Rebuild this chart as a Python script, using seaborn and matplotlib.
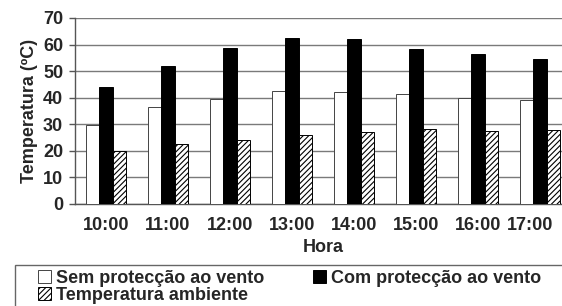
import numpy as np
import pandas as pd
import matplotlib
matplotlib.use("Agg")
import matplotlib.pyplot as plt
import matplotlib.transforms as mtransforms
from matplotlib.patches import Rectangle
import seaborn as sns

horas = ["10:00", "11:00", "12:00", "13:00", "14:00", "15:00", "16:00", "17:00"]
sem_proteccao = [29.7, 36.4, 39.6, 42.5, 42.2, 41.3, 39.9, 39.1]
com_proteccao = [44.1, 52.1, 58.6, 62.6, 62.2, 58.3, 56.3, 54.7]
temp_ambiente = [20.1, 22.5, 24.0, 26.1, 27.1, 28.3, 27.5, 27.7]
series_names = ["Sem protecção ao vento", "Com protecção ao vento", "Temperatura ambiente"]

df = pd.DataFrame({
    "Hora": horas * 3,
    "Temperatura": sem_proteccao + com_proteccao + temp_ambiente,
    "Serie": [series_names[0]] * 8 + [series_names[1]] * 8 + [series_names[2]] * 8,
})

sns.set_theme(style="white")
plt.rcParams["font.family"] = ["Liberation Sans", "DejaVu Sans"]
plt.rcParams["font.weight"] = "bold"
plt.rcParams["hatch.linewidth"] = 0.8

FS = 13
W, H = 562, 306
fig = plt.figure(figsize=(W / 100, H / 100), dpi=100)
ax = fig.add_axes([75 / W, 1 - 204 / H, 496 / W, 186 / H])

sns.barplot(data=df, x="Hora", y="Temperatura", hue="Serie", order=horas,
            hue_order=series_names, palette=["white", "black", "white"],
            width=0.66, gap=0, edgecolor="black", linewidth=0.7,
            legend=False, ax=ax, zorder=3)

n = len(horas)
for i, bar in enumerate(ax.patches):
    if i >= 2 * n:
        bar.set_hatch("//////")
    if i < n:
        bar.set_edgecolor("#444444")

ax.set_ylim(0, 70)
ax.set_xlim(-0.5, n - 0.5)
ax.set_yticks(np.arange(0, 71, 10))
ax.yaxis.grid(True, color="#7a7a7a", linewidth=1.0, zorder=0)
ax.set_axisbelow(True)
for s in ["top", "right"]:
    ax.spines[s].set_visible(False)
for s in ["left", "bottom"]:
    ax.spines[s].set_color("#555555")
    ax.spines[s].set_linewidth(1.0)

ax.set_xticks(np.arange(n))
ax.set_xticklabels(horas)
ax.set_xticks(np.arange(n + 1) - 0.5, minor=True)
ax.tick_params(axis="x", which="major", length=0, pad=9, labelsize=FS)
ax.tick_params(axis="x", which="minor", length=5, width=1, color="#555555", direction="out")
ax.tick_params(axis="y", which="major", length=4.5, width=1, color="#555555",
               direction="out", pad=4, labelsize=FS, left=True)
for lab in ax.get_xticklabels() + ax.get_yticklabels():
    lab.set_fontweight("bold")
last = ax.get_xticklabels()[-1]
last.set_transform(last.get_transform() + mtransforms.ScaledTranslation(-10 / 100, 0, fig.dpi_scale_trans))

ax.set_xlabel("Hora", fontsize=FS, fontweight="bold", labelpad=4)
ax.set_ylabel("Temperatura (ºC)", fontsize=FS, fontweight="bold", labelpad=4)

bars = ax.patches
handles = [bars[0], bars[2 * n], bars[n]]
labels = [series_names[0], series_names[2], series_names[1]]
leg = fig.legend(handles, labels, ncol=2, loc="upper left",
                 bbox_to_anchor=(38 / W, 1 - 270 / H), frameon=False,
                 handlelength=0.7, handleheight=0.7,
                 handletextpad=0.3, labelspacing=0.0, columnspacing=2.7,
                 borderpad=0, borderaxespad=0, prop={"weight": "bold", "size": FS})
fig.patches.append(Rectangle((15 / W, -0.1), 1.0, (306 - 265) / H + 0.1,
                             transform=fig.transFigure, fill=False,
                             edgecolor="#666666", linewidth=1.0))

fig.savefig("out.png", dpi=100)
